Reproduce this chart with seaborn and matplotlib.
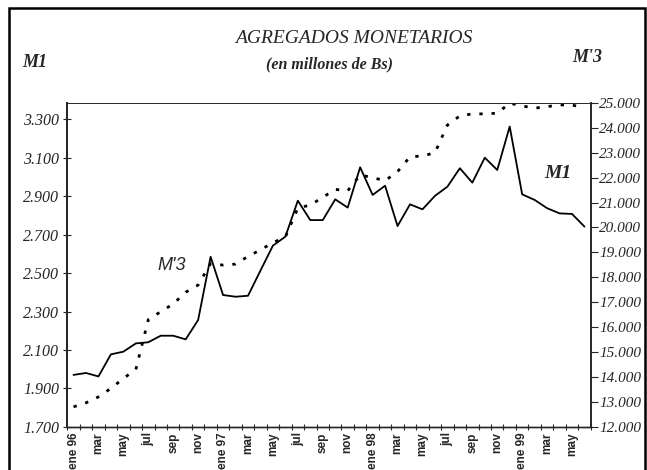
import pandas as pd
import numpy as np
import seaborn as sns
import matplotlib.pyplot as plt
from matplotlib.patches import Rectangle

# meses ene 96 - jun 99
months = ['ene 96', 'feb', 'mar', 'abr', 'may', 'jun', 'jul', 'ago', 'sep', 'oct', 'nov', 'dic',
          'ene 97', 'feb', 'mar', 'abr', 'may', 'jun', 'jul', 'ago', 'sep', 'oct', 'nov', 'dic',
          'ene 98', 'feb', 'mar', 'abr', 'may', 'jun', 'jul', 'ago', 'sep', 'oct', 'nov', 'dic',
          'ene 99', 'feb', 'mar', 'abr', 'may', 'jun']

m1 = [1970, 1980, 1962, 2077, 2091, 2134, 2140, 2174, 2174, 2155, 2256, 2585,
      2386, 2377, 2382, 2513, 2643, 2690, 2877, 2776, 2776, 2884, 2841, 3051,
      2907, 2955, 2745, 2858, 2832, 2902, 2950, 3046, 2971, 3101, 3037, 3263,
      2910, 2881, 2838, 2811, 2808, 2742]

m3 = [12800, 12960, 13200, 13540, 13940, 14300, 16300, 16620, 16930, 17400, 17690, 18550,
      18490, 18530, 18840, 19100, 19390, 19620, 20780, 20900, 21210, 21530, 21470, 22110,
      22000, 21880, 22240, 22840, 22870, 23000, 24110, 24480, 24560, 24560, 24590, 24990,
      24880, 24790, 24850, 24920, 24920, 24790]

left_ticks = [1700, 1900, 2100, 2300, 2500, 2700, 2900, 3100, 3300]
right_ticks = list(range(12000, 25001, 1000))

df = pd.DataFrame({'mes': np.arange(len(months)), 'M1': m1, 'M3': m3})

sns.set_style('ticks')
serif = 'Liberation Serif'
sans = 'Liberation Sans'

fig = plt.figure(figsize=(6.47, 4.70), dpi=100)
ax = fig.add_axes([0.104, 0.092, 0.809, 0.689])
ax2 = ax.twinx()

sns.lineplot(data=df, x='mes', y='M1', ax=ax, color='black', linewidth=1.3)
sns.lineplot(data=df, x='mes', y='M3', ax=ax2, color='black', linewidth=2.0,
             linestyle=(0, (1.2, 3.2)))

ax.set_xlim(-0.5, len(months) - 0.5)
ax.set_ylim(1700, 3386)
ax2.set_ylim(12000, 25000)

# etiquetas del eje x cada dos meses
ax.set_xticks(df['mes'][::2])
ax.set_xticklabels(months[::2], rotation=90, fontfamily=sans, fontsize=8.5, fontweight='bold')
ax.set_xticks(np.arange(-0.5, len(months), 1), minor=True)
ax.tick_params(axis='x', which='major', length=0, pad=4)
ax.tick_params(axis='x', which='minor', length=5, direction='inout', width=0.8)

ax.set_yticks(left_ticks)
ax.set_yticklabels([f'{v:,}'.replace(',', '.') for v in left_ticks],
                   fontfamily=serif, style='italic', fontsize=11.5)
ax.tick_params(axis='y', length=6, direction='inout', width=0.8, pad=3)

ax2.set_yticks(right_ticks)
ax2.set_yticklabels([f'{v:,}'.replace(',', '.') for v in right_ticks],
                    fontfamily=serif, style='italic', fontsize=11)
ax2.tick_params(axis='y', length=5, direction='out', width=0.8, pad=1)

ax.set_xlabel('')
ax.set_ylabel('')
ax2.set_ylabel('')

for a in (ax, ax2):
    a.spines['top'].set_linewidth(0.6)
    a.spines['top'].set_linestyle((0, (2, 1)))
    a.spines['left'].set_linewidth(1.4)
    a.spines['right'].set_linewidth(1.2)
    a.spines['bottom'].set_linewidth(1.0)

ax.text(6.7, 2542, "M'3", fontfamily=sans, style='italic', fontsize=13, va='center')
ax.text(37.8, 3021, 'M1', fontfamily=serif, style='italic', fontweight='bold',
        fontsize=14, va='center')

fig.text(0.546, 0.919, 'AGREGADOS MONETARIOS', ha='center', va='center',
         fontfamily=serif, style='italic', fontsize=14)
fig.text(0.51, 0.862, '(en millones de Bs)', ha='center', va='center',
         fontfamily=serif, style='italic', fontweight='bold', fontsize=11.5)
fig.text(0.034, 0.866, 'M1', ha='left', va='center',
         fontfamily=serif, style='italic', fontweight='bold', fontsize=13)
fig.text(0.907, 0.877, "M'3", ha='center', va='center',
         fontfamily=serif, style='italic', fontweight='bold', fontsize=13)

# marco exterior
fig.patches.append(Rectangle((0.014, -0.05), 0.983, 1.032, transform=fig.transFigure,
                             fill=False, edgecolor='black', linewidth=1.8))

fig.savefig('out.png', dpi=100)
